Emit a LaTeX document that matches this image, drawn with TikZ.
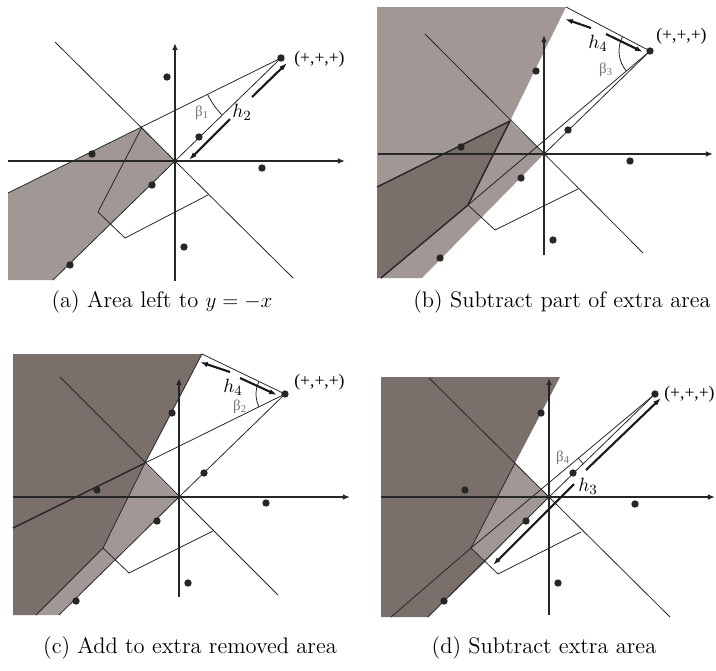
\documentclass[tikz,border=0pt]{standalone}
\usepackage{fontspec}
\newfontfamily\figfont{Liberation Serif}
\usetikzlibrary{arrows.meta}
\definecolor{lightarea}{RGB}{161,151,148}
\definecolor{darkarea}{RGB}{123,111,108}

\begin{document}
\begin{tikzpicture}[
  x=0.02cm, y=-0.02cm,
  axis/.style={line width=1.1pt, draw=black!85, -{Latex[length=4pt,width=3.2pt]}},
  thinline/.style={line width=0.45pt, draw=black!85},
  edgeline/.style={line width=0.8pt, draw=black!85},
  hline/.style={line width=1.2pt, draw=black!90, -{Latex[length=4.5pt,width=3pt]}},
  dot/.style={circle, fill=black!85, inner sep=0pt, minimum size=4.2pt},
  octant/.style={font=\figfont\fontsize{10}{12}\selectfont, anchor=west, inner sep=0pt},
  hlabel/.style={font=\fontsize{11}{12}\selectfont, inner sep=0pt},
  anglabel/.style={font=\figfont\fontsize{8.5}{9}\selectfont, text=black!55, inner sep=0pt},
  caption/.style={font=\fontsize{12.8}{15}\selectfont, inner sep=0pt}
]
\useasboundingbox (0,0) rectangle (716,670);

% (a)
\coordinate (oa) at (175,161);
\coordinate (pa) at (281,58);
\coordinate (ia) at (142,127);
\coordinate (la) at (8,193);
\coordinate (ba) at (53,280);
\fill[lightarea] (la) -- (ia) -- (oa) -- (ba) -- (8,280) -- cycle;
\draw[thinline] (la) -- (pa) -- (oa) -- (ba);
\draw[thinline] (55,42) -- (293,278);
\draw[thinline] (ia) -- (98,212) -- (125,238) -- (208,195);
\draw[axis] (8,161) -- (345,161);
\draw[axis] (175,281) -- (175,43);
\draw[thinline] (pa) ++(206.4:1.64cm) arc[start angle=206.4, end angle=224.2, radius=1.64cm];
\coordinate (ha1) at (252,97);
\coordinate (ha2) at (287,63);
\coordinate (ha3) at (230,119);
\coordinate (ha4) at (189,160);
\draw[hline] (ha1) -- (ha2);
\draw[hline] (ha3) -- (ha4);
\node[hlabel] (h2) at (242,112) {$h_2$};
\node[anglabel] (beta1) at (202,113) {β\textsubscript{1}};
\node[dot] (pta) at (pa) {};
\node[octant] (signa) at (294,59) {(+,+,+)};
\node[dot] (a1) at (167,77) {};
\node[dot] (a2) at (199,137) {};
\node[dot] (a3) at (92,154) {};
\node[dot] (a4) at (262,168) {};
\node[dot] (a5) at (152,185) {};
\node[dot] (a6) at (184,247) {};
\node[dot] (a7) at (70,265) {};

% (b)
\coordinate (ob) at (544,154);
\coordinate (pb) at (650,51);
\coordinate (tb) at (566,7);
\coordinate (ib) at (510,121);
\coordinate (cb) at (468,205);
\coordinate (lb) at (377,187);
\fill[lightarea] (377,7) -- (tb) -- (ib) -- (ob) -- (422,278) -- (377,278) -- cycle;
\fill[darkarea] (lb) -- (ib) -- (cb) -- (381,278) -- (377,278) -- cycle;
\draw[edgeline] (lb) -- (ib) -- (cb) -- (381,278);
\draw[thinline] (tb) -- (pb) -- (ob);
\draw[thinline] (pb) -- (cb) -- (495,230) -- (578,189);
\draw[thinline] (425,34) -- (643,253);
\draw[axis] (378,154) -- (713,154);
\draw[axis] (544,255) -- (544,35);
\draw[thinline] (pb) ++(152.4:0.62cm) arc[start angle=152.4, end angle=220.2, radius=0.62cm];
\coordinate (hb1) at (591,28);
\coordinate (hb2) at (565,19);
\coordinate (hb3) at (606,34);
\coordinate (hb4) at (643,52);
\draw[hline] (hb1) -- (hb2);
\draw[hline] (hb3) -- (hb4);
\node[hlabel] (h4b) at (598,43) {$h_4$};
\node[anglabel] (beta3) at (606,70) {β\textsubscript{3}};
\node[dot] (ptb) at (pb) {};
\node[octant] (signb) at (656,36) {(+,+,+)};
\node[dot] (b1) at (536,71) {};
\node[dot] (b2) at (568,130) {};
\node[dot] (b3) at (461,147) {};
\node[dot] (b4) at (630,161) {};
\node[dot] (b5) at (521,178) {};
\node[dot] (b6) at (553,240) {};
\node[dot] (b7) at (440,258) {};

% (c)
\coordinate (oc) at (179,497);
\coordinate (pc) at (285,394);
\coordinate (tc) at (202,354);
\coordinate (ic) at (145,463);
\coordinate (cc) at (103,548);
\coordinate (lc) at (13,528);
\fill[darkarea] (13,354) -- (tc) -- (ic) -- (cc) -- (36,615) -- (13,615) -- cycle;
\fill[lightarea] (ic) -- (oc) -- (59,615) -- (36,615) -- (cc) -- cycle;
\draw[edgeline] (lc) -- (ic);
\draw[thinline] (ic) -- (pc) -- (tc) -- (ic) -- (cc) -- (36,615);
\draw[thinline] (pc) -- (oc) -- (59,615);
\draw[thinline] (cc) -- (129,573) -- (213,531);
\draw[thinline] (60,377) -- (278,595);
\draw[axis] (13,497) -- (350,497);
\draw[axis] (179,597) -- (179,378);
\draw[thinline] (pc) ++(154.3:0.58cm) arc[start angle=154.3, end angle=206.2, radius=0.58cm];
\coordinate (hc1) at (230,372);
\coordinate (hc2) at (200,362);
\coordinate (hc3) at (240,378);
\coordinate (hc4) at (277,395);
\draw[hline] (hc1) -- (hc2);
\draw[hline] (hc3) -- (hc4);
\node[hlabel] (h4c) at (233,387) {$h_4$};
\node[anglabel] (beta2) at (240,407) {β\textsubscript{2}};
\node[dot] (ptc) at (pc) {};
\node[octant] (signc) at (294,382) {(+,+,+)};
\node[dot] (c1) at (172,413) {};
\node[dot] (c2) at (204,473) {};
\node[dot] (c3) at (97,490) {};
\node[dot] (c4) at (266,503) {};
\node[dot] (c5) at (157,521) {};
\node[dot] (c6) at (188,583) {};
\node[dot] (c7) at (76,601) {};

% (d)
\coordinate (od) at (549,497);
\coordinate (pd) at (655,394);
\coordinate (td) at (560,377);
\coordinate (id) at (515,463);
\coordinate (cd) at (471,548);
\coordinate (kd) at (485,562);
\fill[darkarea] (381,377) -- (td) -- (id) -- (cd) -- (kd) -- (428,617) -- (381,617) -- cycle;
\fill[lightarea] (id) -- (od) -- (kd) -- (cd) -- cycle;
\draw[thinline] (id) -- (cd);
\draw[thinline] (pd) -- (od) -- (428,617);
\draw[thinline] (pd) -- (cd) -- (391,617);
\draw[thinline] (cd) -- (498,574) -- (581,532);
\draw[thinline] (429,378) -- (670,617);
\draw[axis] (381,497) -- (715,497);
\draw[axis] (549,615) -- (549,378);
\draw[thinline] (pd) ++(219.9:2.0cm) arc[start angle=219.9, end angle=224.2, radius=2.0cm];
\coordinate (hd1) at (586,470);
\coordinate (hd2) at (661,398);
\coordinate (hd3) at (574,484);
\coordinate (hd4) at (493,565);
\draw[hline] (hd1) -- (hd2);
\draw[hline] (hd3) -- (hd4);
\node[hlabel] (h3) at (588,486) {$h_3$};
\node[anglabel] (beta4) at (563,458) {β\textsubscript{4}};
\node[dot] (ptd) at (pd) {};
\node[octant] (signd) at (664,394) {(+,+,+)};
\node[dot] (d1) at (541,413) {};
\node[dot] (d2) at (573,473) {};
\node[dot] (d3) at (465,490) {};
\node[dot] (d4) at (635,504) {};
\node[dot] (d5) at (526,521) {};
\node[dot] (d6) at (558,583) {};
\node[dot] (d7) at (444,601) {};

% captions
\node[caption] (capa) at (162,302) {(a) Area left to $y=-x$};
\node[caption] (capb) at (562,302) {(b) Subtract part of extra area};
\node[caption] (capc) at (190,648) {(c) Add to extra removed area};
\node[caption] (capd) at (544,648) {(d) Subtract extra area};
\end{tikzpicture}
\end{document}
